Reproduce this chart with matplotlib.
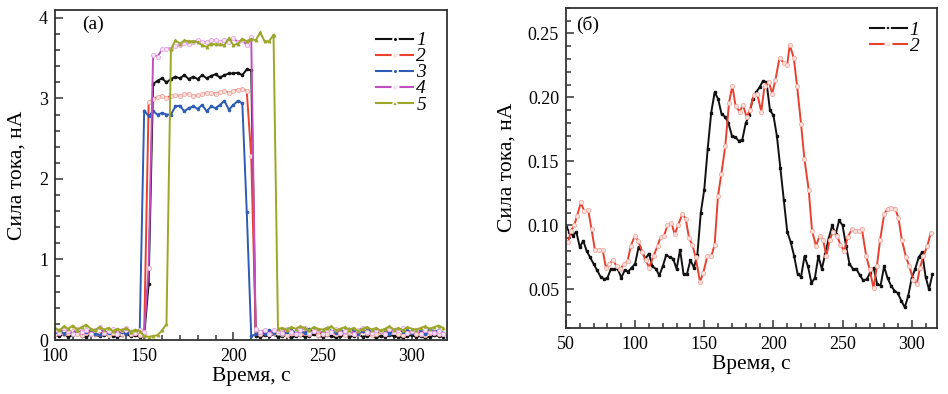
import numpy as np
import matplotlib
matplotlib.use("Agg")
import matplotlib.pyplot as plt
from matplotlib.lines import Line2D
from matplotlib.ticker import MultipleLocator, FormatStrFormatter

plt.rcParams['font.family'] = ['Liberation Serif', 'DejaVu Serif']

# ---- panel (a): five runs, sampled every 2.5 s from 100 s ----
t_start_a = 100
t_step_a = 2.5

cur1 = [0.06, 0.05, 0.07, 0.04, 0.06, 0.08, 0.05, 0.04, 0.07, 0.06,
        0.05, 0.06, 0.08, 0.05, 0.04, 0.06, 0.07, 0.05, 0.06, 0.04,
        0.05, 0.70,
        3.18, 3.22, 3.25, 3.20, 3.24, 3.27, 3.25, 3.29, 3.24, 3.27,
        3.24, 3.29, 3.25, 3.28, 3.30, 3.26, 3.29, 3.31, 3.31, 3.32,
        3.29, 3.36, 3.35,
        0.05, 0.04, 0.06, 0.05, 0.07, 0.04, 0.05, 0.06, 0.03, 0.05,
        0.06, 0.04, 0.05, 0.07, 0.05, 0.04, 0.06, 0.05, 0.03, 0.05,
        0.06, 0.04, 0.05, 0.07, 0.04, 0.05, 0.06, 0.03, 0.05, 0.04,
        0.06, 0.05, 0.04, 0.03, 0.05, 0.06, 0.04, 0.05, 0.03, 0.04,
        0.06, 0.05, 0.04]

cur2 = [0.08, 0.10, 0.07, 0.09, 0.11, 0.08, 0.06, 0.09, 0.10, 0.07,
        0.08, 0.10, 0.06, 0.09, 0.07, 0.08, 0.11, 0.07, 0.09, 0.06,
        0.08,
        2.95, 2.99, 3.02, 3.03, 3.01, 3.03, 3.04, 3.03, 3.05, 3.06,
        3.03, 3.04, 3.05, 3.07, 3.07, 3.06, 3.08, 3.09, 3.07, 3.09,
        3.11, 3.12, 3.09,
        2.28,
        0.12, 0.08, 0.10, 0.07, 0.09, 0.11, 0.08, 0.06, 0.09, 0.10,
        0.07, 0.09, 0.08, 0.11, 0.06, 0.09, 0.08, 0.10, 0.07, 0.09,
        0.06, 0.10, 0.08, 0.07, 0.11, 0.09, 0.06, 0.08, 0.10, 0.07,
        0.09, 0.11, 0.08, 0.06, 0.09, 0.10, 0.07, 0.08, 0.06, 0.09,
        0.10, 0.08, 0.07]

cur3 = [0.10, 0.12, 0.08, 0.11, 0.07, 0.13, 0.09, 0.10, 0.12, 0.08,
        0.06, 0.11, 0.09, 0.13, 0.08, 0.10, 0.07, 0.11, 0.09, 0.12,
        2.85,
        2.78, 2.84, 2.80, 2.82, 2.80, 2.80, 2.90, 2.91, 2.84, 2.88,
        2.90, 2.87, 2.92, 2.84, 2.90, 2.88, 2.92, 2.97, 2.86, 2.92,
        2.97, 2.94,
        1.59,
        0.05, 0.07, 0.10, 0.08, 0.12, 0.09, 0.11, 0.07, 0.10, 0.13,
        0.08, 0.11, 0.09, 0.14, 0.10, 0.12, 0.08, 0.15, 0.11, 0.09,
        0.13, 0.10, 0.14, 0.12, 0.08, 0.11, 0.15, 0.09, 0.12, 0.10,
        0.13, 0.08, 0.11, 0.14, 0.10, 0.12, 0.09, 0.13, 0.11, 0.08,
        0.14, 0.10, 0.12, 0.09]

cur4 = [0.12, 0.09, 0.15, 0.11, 0.08, 0.14, 0.10, 0.13, 0.07, 0.12,
        0.16, 0.09, 0.11, 0.14, 0.08, 0.12, 0.15, 0.10, 0.09, 0.13,
        0.10, 0.90,
        3.54, 3.52, 3.61, 3.62, 3.62, 3.65, 3.66, 3.69, 3.68, 3.70,
        3.72, 3.70, 3.70, 3.72, 3.72, 3.70, 3.73, 3.70, 3.75, 3.70,
        3.73, 3.66, 3.76,
        0.14, 0.10, 0.12, 0.08, 0.13, 0.11, 0.09, 0.14, 0.10, 0.07,
        0.12, 0.15, 0.09, 0.11, 0.13, 0.08, 0.12, 0.10, 0.14, 0.09,
        0.11, 0.13, 0.08, 0.12, 0.15, 0.10, 0.09, 0.13, 0.11, 0.08,
        0.14, 0.10, 0.12, 0.15, 0.09, 0.11, 0.13, 0.08, 0.12, 0.10,
        0.09, 0.11, 0.08]

cur5 = [0.15, 0.12, 0.17, 0.14, 0.18, 0.13, 0.16, 0.19, 0.14, 0.12,
        0.16, 0.13, 0.15, 0.11, 0.14, 0.12, 0.15, 0.10, 0.13, 0.11,
        0.05, 0.04, 0.05, 0.06, 0.12, 0.20,
        3.61, 3.72, 3.68, 3.72, 3.71, 3.71, 3.70, 3.66, 3.64, 3.68,
        3.67, 3.67, 3.66, 3.75, 3.66, 3.68, 3.74, 3.71, 3.74, 3.72,
        3.82, 3.71, 3.71, 3.79,
        0.14, 0.15, 0.13, 0.16, 0.14, 0.17, 0.15, 0.12, 0.16, 0.14,
        0.13, 0.15, 0.17, 0.12, 0.14, 0.16, 0.13, 0.15, 0.11, 0.14,
        0.16, 0.13, 0.15, 0.12, 0.14, 0.17, 0.13, 0.15, 0.12, 0.16,
        0.14, 0.13, 0.15, 0.17, 0.14, 0.16, 0.18, 0.15]

# ---- panel (б): two runs ----
t_start_b = 50
t_step_b = 2.5
cur1_b = [0.099, 0.095, 0.092, 0.095, 0.083, 0.088, 0.080, 0.075, 0.070, 0.065,
          0.060, 0.058, 0.059, 0.066, 0.066, 0.066, 0.059, 0.065, 0.064, 0.067,
          0.070, 0.083, 0.079, 0.074, 0.078, 0.068, 0.066, 0.061, 0.068, 0.077,
          0.075, 0.074, 0.066, 0.081, 0.062, 0.062, 0.073, 0.067, 0.077, 0.110,
          0.128, 0.160, 0.188, 0.204, 0.199, 0.187, 0.185, 0.180, 0.170, 0.169,
          0.166, 0.167, 0.180, 0.186, 0.199, 0.204, 0.208, 0.213, 0.212, 0.190,
          0.186, 0.170, 0.145, 0.120, 0.095, 0.087, 0.076, 0.062, 0.060, 0.076,
          0.068, 0.055, 0.059, 0.076, 0.066, 0.078, 0.090, 0.100, 0.093, 0.104,
          0.100, 0.084, 0.070, 0.066, 0.066, 0.061, 0.057, 0.058, 0.063, 0.067,
          0.054, 0.053, 0.068, 0.059, 0.053, 0.049, 0.047, 0.041, 0.036, 0.045,
          0.059, 0.066, 0.075, 0.079, 0.060, 0.050, 0.062]

t2_b = [51.7, 53.6, 56.0, 57.9, 60.8, 63.2, 66.1, 68.5, 70.9, 74.0,
        76.5, 78.9, 81.3, 84.1, 86.6, 89.2, 92.1, 94.5, 96.9, 99.8,
        102.2, 105.3, 107.7, 110.1, 113.3, 116.2, 118.5, 120.9, 123.4, 126.3,
        128.6, 131.0, 134.2, 136.6, 139.0, 141.4, 143.8, 146.9,
        149.3, 152.2, 155.1, 157.5, 159.9, 162.3, 165.2, 167.9, 170.3, 172.7,
        175.6, 178.0, 180.6, 183.0, 185.9, 188.3, 191.2, 193.6, 196.7, 199.1,
        201.5, 204.4, 207.5, 209.9, 211.8, 214.7, 217.1, 220.0, 222.4, 225.5,
        227.9, 230.8, 233.4,
        235.9, 238.3, 240.7, 243.1, 246.0, 248.4, 251.3, 253.7, 256.8, 259.2,
        261.6, 264.0, 267.1, 269.5, 272.4, 274.8, 277.2, 280.1, 282.5, 284.9,
        288.0, 290.4, 292.8, 295.9, 298.3, 301.2, 303.6, 306.0, 308.4, 311.3,
        313.7]
cur2_b = [0.087, 0.096, 0.100, 0.107, 0.118, 0.111, 0.112, 0.097, 0.081, 0.081,
          0.081, 0.067, 0.070, 0.073, 0.068, 0.066, 0.070, 0.072, 0.084, 0.092,
          0.088, 0.079, 0.073, 0.067, 0.076, 0.084, 0.091, 0.092, 0.100, 0.102,
          0.093, 0.100, 0.109, 0.105, 0.090, 0.085, 0.075, 0.056,
          0.063, 0.076, 0.076, 0.085, 0.123, 0.140, 0.162, 0.196, 0.209, 0.193,
          0.189, 0.194, 0.185, 0.190, 0.202, 0.203, 0.189, 0.209, 0.212, 0.203,
          0.214, 0.231, 0.227, 0.225, 0.241, 0.231, 0.209, 0.179, 0.152, 0.128,
          0.096, 0.084, 0.092,
          0.089, 0.076, 0.089, 0.095, 0.092, 0.085, 0.080, 0.091, 0.097, 0.096,
          0.096, 0.097, 0.076, 0.066, 0.051, 0.068, 0.089, 0.109, 0.113, 0.114,
          0.113, 0.106, 0.089, 0.075, 0.068, 0.057, 0.054, 0.067, 0.076, 0.084,
          0.094]

labels_a = ["1", "2", "3", "4", "5"]
labels_b = ["1", "2"]

for s in (cur1, cur2, cur3, cur4, cur5):
    assert len(s) == 88, len(s)
assert len(t2_b) == len(cur2_b)

t_a = t_start_a + t_step_a * np.arange(88)
t1_b = t_start_b + t_step_b * np.arange(len(cur1_b))

# style: color, marker, marker face, marker edge, marker size
styles_a = [
    ("#111111", "o", "#111111", "#111111", 2.0),
    ("#e8412f", "o", "#fbe0dc", "#f2aaa2", 3.0),
    ("#2d5bb5", "o", "#2d5bb5", "#2d5bb5", 2.0),
    ("#c24fc0", "o", "#f8e4f8", "#e3a6e2", 3.0),
    ("#9ca629", "^", "#9ca629", "#9ca629", 2.2),
]

fig = plt.figure(figsize=(9.48, 3.94), dpi=100)
ax1 = fig.add_axes([0.058, 0.137, 0.414, 0.838])
ax2 = fig.add_axes([0.597, 0.168, 0.391, 0.812])

handles = []
for y, lab, (c, m, mf, me, ms) in zip((cur1, cur2, cur3, cur4, cur5), labels_a, styles_a):
    ax1.plot(t_a, y, color=c, lw=1.4, marker=m, ms=ms, mfc=mf, mec=me, mew=0.6)
    handles.append(Line2D([], [], color=c, lw=1.5, marker=m, ms=ms + 1.5,
                          mfc=mf, mec="white", mew=1.3, label=lab))

leg_kw = dict(frameon=False, prop={"style": "italic", "size": 14},
              handlelength=1.9, handletextpad=0.15, labelspacing=-0.08,
              borderpad=0.2)

ax1.set_xlim(100, 320)
ax1.set_ylim(0, 4.1)
ax1.xaxis.set_major_locator(MultipleLocator(50))
ax1.xaxis.set_minor_locator(MultipleLocator(10))
ax1.yaxis.set_major_locator(MultipleLocator(1))
ax1.yaxis.set_minor_locator(MultipleLocator(0.2))
ax1.set_xlabel("Время, с", fontsize=15.5, labelpad=1)
ax1.set_ylabel("Сила тока, нА", fontsize=15.5, labelpad=9)
ax1.text(0.07, 0.955, "(а)", transform=ax1.transAxes, fontsize=14, va="center")
ax1.legend(handles=handles, loc="upper right", bbox_to_anchor=(0.98, 0.975), **leg_kw)

# panel (б)
ax2.plot(t1_b, cur1_b, color="#111111", lw=1.4, marker="s", ms=1.8, mfc="#111111", mec="#111111")
ax2.plot(t2_b, cur2_b, color="#e8412f", lw=1.4, marker="o", ms=3.0, mfc="#fbe0dc", mec="#f2aaa2", mew=0.6)
handles_b = [
    Line2D([], [], color="#111111", lw=1.5, marker="s", ms=3, mfc="#111111", mec="white", mew=1.3, label=labels_b[0]),
    Line2D([], [], color="#e8412f", lw=1.5, marker="o", ms=4.5, mfc="#fbe0dc", mec="white", mew=1.3, label=labels_b[1]),
]
ax2.set_xlim(50, 318)
ax2.set_ylim(0.02, 0.27)
ax2.xaxis.set_major_locator(MultipleLocator(50))
ax2.xaxis.set_minor_locator(MultipleLocator(10))
ax2.yaxis.set_major_locator(MultipleLocator(0.05))
ax2.yaxis.set_minor_locator(MultipleLocator(0.01))
ax2.yaxis.set_major_formatter(FormatStrFormatter("%.2f"))
ax2.set_xlabel("Время, с", fontsize=15.5, labelpad=1)
ax2.set_ylabel("Сила тока, нА", fontsize=15.5, labelpad=8)
ax2.text(0.027, 0.947, "(б)", transform=ax2.transAxes, fontsize=14, va="center")
ax2.legend(handles=handles_b, loc="upper right", bbox_to_anchor=(0.99, 1.0), **leg_kw)

for ax in (ax1, ax2):
    for sp in ax.spines.values():
        sp.set_linewidth(1.3)
        sp.set_color("#333333")
    ax.tick_params(which="both", direction="in", top=False, right=False,
                   labelsize=13, width=1.1, color="#333333")
    ax.tick_params(which="major", length=6)
    ax.tick_params(which="minor", length=3.5)
    ax.tick_params(axis="x", which="major", pad=6)
    ax.tick_params(axis="y", which="major", pad=5)

fig.savefig("out.png", dpi=100)
